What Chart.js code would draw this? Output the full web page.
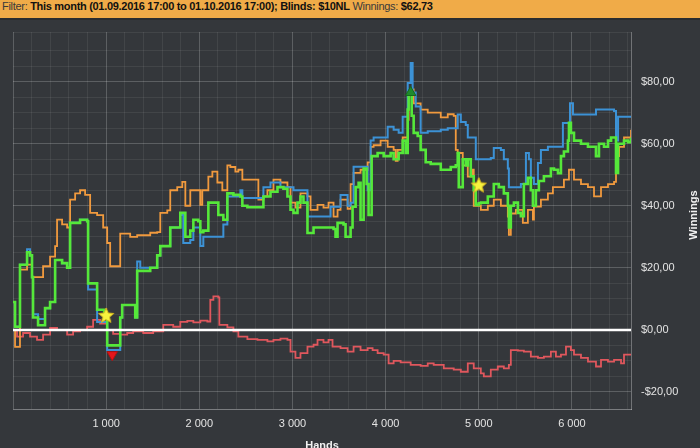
<!DOCTYPE html>
<html>
<head>
<meta charset="utf-8">
<script src="https://cdn.jsdelivr.net/npm/chart.js@4.4.1/dist/chart.umd.min.js"></script>
<style>
  html, body { margin: 0; padding: 0; background: #34373b; width: 700px; height: 448px; overflow: hidden; }
  #filtro { height: 18px; line-height: 18px; background: #f0ab48; color: #3a3a3a; font: 11px "Liberation Sans", Arial, sans-serif; letter-spacing: -0.3px; padding-left: 2px; white-space: nowrap; border-bottom: 2px solid #2a2c2f; }
  #filtro b { color: #111; }
  #marco { position: absolute; left: 0; top: 20px; width: 700px; height: 428px; }
</style>
</head>
<body>
<div id="filtro">Filter: <b>This month (01.09.2016 17:00 to 01.10.2016 17:00); Blinds: $10NL</b> Winnings: <b>$62,73</b></div>
<div id="marco"><canvas id="grafica"></canvas></div>
<script>
// [manos, dolares]
const netWon = [[0,9],[22,1],[54,1],[75,21],[151,25],[183,24],[204,17],[215,4],[269,1.5],[323,1.5],[344,7],[398,9],[452,22.5],[527,21.5],[581,20],[613,34.5],[720,35.5],[796,35],[806,15],[892,15],[903,6.5],[979,5],[1011,-5],[1129,-5],[1151,4],[1172,8],[1301,8],[1312,4],[1333,19],[1473,20],[1548,24],[1581,27],[1688,33],[1763,33],[1796,37.7],[1850,30],[1903,32],[1936,35.5],[1989,35],[2011,31.5],[2043,32],[2097,41],[2151,41],[2204,37],[2258,35.5],[2301,44],[2366,43.5],[2441,43],[2462,40],[2516,39.5],[2656,39.5],[2688,43],[2764,44.5],[2839,46],[2903,45.5],[2946,43],[2979,38.7],[3011,37.7],[3054,41],[3086,43],[3118,41],[3161,31.2],[3226,33],[3333,33],[3441,32.5],[3462,30],[3484,34.5],[3548,34],[3570,30],[3624,33],[3645,39.7],[3678,46],[3710,47.4],[3731,35.5],[3764,52],[3796,47],[3817,37],[3850,56],[3914,57],[3979,56],[4054,57],[4086,55],[4140,57],[4183,61],[4215,57],[4237,71],[4247,76.5],[4269,77],[4280,69],[4301,63.5],[4344,62.5],[4376,58],[4430,54],[4484,53.5],[4592,51.6],[4699,52.5],[4753,53],[4774,57],[4785,46],[4828,55],[4860,53],[4882,55],[4914,49.5],[4946,45],[4968,40.3],[5000,40.8],[5022,41],[5097,43],[5161,47],[5215,46],[5269,44],[5312,40],[5323,33],[5344,40],[5377,41],[5420,37.7],[5452,36.6],[5484,47],[5527,49],[5559,45],[5581,40],[5613,45],[5645,48],[5699,49.5],[5774,52],[5807,51.6],[5850,50.5],[5882,56],[5914,57.5],[5957,61],[5968,66.7],[5989,63.5],[6022,61],[6097,60],[6172,59],[6237,59],[6258,56],[6290,60],[6344,59],[6387,61],[6420,62],[6452,62],[6473,50.6],[6495,60],[6527,60],[6559,61],[6602,60.5],[6634,62]];

const showdownWon = [[0,9],[22,1],[54,1],[75,21],[151,26],[183,24],[204,17],[215,5],[269,3.5],[323,3.5],[344,7],[398,9],[452,22.5],[527,21.5],[581,20],[613,34.5],[720,35.5],[796,35],[806,13],[892,13],[903,2.5],[979,2.5],[1011,-6.5],[1129,-6.5],[1151,4],[1172,8],[1301,8],[1312,4],[1333,22],[1366,20],[1473,20],[1548,24],[1581,27],[1688,33],[1763,33],[1796,37],[1828,28],[1903,29],[1936,33],[1989,33],[2011,27],[2043,30],[2226,30],[2258,34],[2301,43],[2419,43],[2441,45],[2462,42.5],[2656,42.5],[2688,46],[2764,47.5],[2871,46],[2946,46],[3011,45],[3118,45],[3161,36.5],[3376,36.5],[3409,39.7],[3516,43.5],[3592,40],[3624,41],[3656,52.6],[3731,52.6],[3807,45],[3839,61],[3871,62],[3946,62],[4022,65.5],[4086,64.5],[4140,63.5],[4183,68.7],[4237,79.6],[4269,86],[4290,76.5],[4323,72],[4376,63.5],[4452,64],[4592,64.5],[4667,65],[4753,65],[4774,69.4],[4807,67],[4860,66],[4882,62],[4946,62],[4968,55],[5129,55.4],[5161,58.6],[5237,58],[5269,55],[5312,52],[5323,46],[5377,46],[5452,47],[5506,57],[5538,55],[5559,49],[5592,47],[5635,53.8],[5667,58],[5742,59],[5882,59],[5903,66.7],[5957,66.7],[5979,73],[6011,69.4],[6237,69.4],[6258,71],[6452,70.5],[6473,61],[6495,68.7],[6634,68.7]];

const allInAdj = [[0,0],[22,-5.5],[54,-5.5],[75,19.4],[151,21],[204,17],[290,17],[323,20.5],[398,23.6],[452,27],[473,35.5],[527,34],[581,33],[613,42],[667,44],[720,45],[774,43.5],[828,37.7],[903,37],[968,33],[1011,28],[1043,20.5],[1118,20.5],[1151,31],[1258,30],[1333,30.5],[1473,31.3],[1548,31.5],[1581,37.7],[1656,38.5],[1688,45],[1763,46],[1817,47.7],[1850,40],[1903,45],[2011,40.3],[2032,45],[2097,49.4],[2140,51],[2194,47.5],[2247,45],[2301,53],[2333,52.5],[2387,51],[2419,51.6],[2462,48.4],[2624,48.4],[2634,42],[2688,43],[2731,45],[2796,48.4],[2871,47.5],[2946,46],[2979,41],[3032,39.4],[3086,44],[3161,43],[3194,38.7],[3269,40.3],[3333,39.4],[3387,41],[3441,36.5],[3484,38.7],[3516,42],[3592,39],[3624,47],[3656,50.6],[3731,51.6],[3807,54],[3839,59],[3871,59.5],[3946,61],[4022,59],[4086,58],[4108,54.5],[4129,58],[4183,62],[4237,67.7],[4247,76.5],[4269,77.5],[4301,73],[4376,71],[4452,70],[4516,70],[4592,68.5],[4667,69.5],[4731,69],[4753,58],[4774,57],[4828,53],[4882,49.4],[4936,51.6],[4946,40],[5022,38.7],[5097,40],[5161,42],[5237,40],[5312,36.5],[5323,30.6],[5344,37.5],[5398,38.7],[5473,34.5],[5527,38.7],[5581,35.5],[5592,39.7],[5667,42],[5742,44],[5796,46],[5850,46],[5914,48.4],[5968,51.6],[6022,48.4],[6097,47],[6172,46],[6237,43],[6312,46],[6387,47],[6452,47.7],[6473,56],[6506,59],[6559,62],[6634,64.5]];

const nonShowdownWon = [[0,0],[43,-2.2],[108,-1],[183,-2.2],[258,-3.2],[323,-1.5],[398,0.6],[473,0],[581,-1.5],[645,-0.5],[720,0],[796,1],[860,3.2],[935,2],[1011,0],[1075,-1.3],[1151,-1.5],[1226,-1],[1290,-0.5],[1398,-1],[1505,-0.5],[1613,1.6],[1720,1],[1796,2.6],[1871,2.9],[1936,2.4],[2011,3],[2086,2.7],[2118,9.7],[2151,10.8],[2204,10.5],[2215,1.6],[2301,0.8],[2366,-0.5],[2419,-2.2],[2516,-3],[2624,-3.2],[2731,-3.7],[2796,-3.2],[2871,-2.8],[2946,-3.2],[2979,-7],[3032,-9],[3086,-7.5],[3161,-5.4],[3226,-4.8],[3269,-3.2],[3333,-4],[3387,-3.2],[3430,-5.4],[3516,-5.9],[3592,-7],[3656,-5.4],[3731,-6.5],[3807,-5.9],[3860,-6.5],[3914,-7.5],[3979,-8],[4032,-10.8],[4086,-10],[4161,-10.5],[4269,-11.3],[4376,-11.6],[4452,-10.8],[4516,-11.3],[4624,-12.4],[4731,-12.8],[4807,-13.5],[4882,-10.8],[4946,-12.4],[5022,-14],[5054,-15],[5129,-12.8],[5204,-11.8],[5269,-12.4],[5323,-11.3],[5344,-6.5],[5420,-6.7],[5484,-7],[5559,-8.6],[5635,-9],[5699,-8.6],[5774,-7],[5828,-8.6],[5882,-8],[5936,-5.4],[5989,-6.5],[6022,-8],[6097,-9],[6172,-10.2],[6258,-11.8],[6312,-9.7],[6387,-10.2],[6452,-9.7],[6527,-10.8],[6559,-8],[6634,-8]];

const zeroLine = [[0,0],[6634,0]];
const stars = [[1000,4.5],[5000,46.5]];
const lowMark = [[1065,-8]];
const highMark = [[4269,76.5]];

const handsMin = 0, handsMax = 6634;
const wonMin = -25.5, wonMax = 96;
const handsStep = 200;   // rejilla fina, etiqueta cada 1000

const puntos = pares => pares.map(([x, y]) => ({ x, y }));

function estrella(r) {
    const c = document.createElement('canvas');
    c.width = c.height = r * 2 + 2;
    const g = c.getContext('2d');
    g.beginPath();
    for (let i = 0; i < 10; i++) {
        const a = -Math.PI / 2 + i * Math.PI / 5;
        const rr = i % 2 ? r * 0.45 : r;
        g.lineTo(r + 1 + rr * Math.cos(a), r + 1 + rr * Math.sin(a));
    }
    g.closePath();
    g.fillStyle = '#f7f33e';
    g.fill();
    g.strokeStyle = '#d8b81e';
    g.lineWidth = 1;
    g.stroke();
    return c;
}

const miles = v => String(v).replace(/\B(?=(\d{3})+(?!\d))/g, ' ');
const dolares = v => (v < 0 ? '-' : '') + '$' + Math.abs(v).toFixed(2).replace('.', ',');

Chart.defaults.font.family = '"Liberation Sans", Arial, sans-serif';
Chart.defaults.font.size = 11;
Chart.defaults.color = '#e4e4e4';

const linea = (datos, color, ancho, orden) => ({
    data: puntos(datos),
    borderColor: color,
    borderWidth: ancho,
    pointRadius: 0,
    stepped: true,
    order: orden
});

const titulos = {
    id: 'titulos',
    afterDraw(chart) {
        const { ctx, chartArea } = chart;
        ctx.save();
        ctx.fillStyle = '#f0f0f0';
        ctx.font = 'bold 11px "Liberation Sans", Arial, sans-serif';
        ctx.textAlign = 'center';
        ctx.textBaseline = 'middle';
        ctx.fillText('Hands', (chartArea.left + chartArea.right) / 2, 426);
        ctx.translate(694, 195);
        ctx.rotate(-Math.PI / 2);
        ctx.fillText('Winnings', 0, 0);
        ctx.restore();
    }
};

const config = {
    type: 'line',
    data: {
        datasets: [
            { data: puntos(stars), showLine: false, pointStyle: estrella(8), pointRadius: 8, order: 0 },
            { data: puntos(lowMark), showLine: false, pointStyle: 'triangle', rotation: 180, pointRadius: 6, backgroundColor: '#e3161b', borderColor: '#b01010', borderWidth: 1, order: 0 },
            { data: puntos(highMark), showLine: false, pointStyle: 'triangle', pointRadius: 6, backgroundColor: '#1f8a2c', borderColor: '#17661f', borderWidth: 1, order: 0 },
            { data: puntos(zeroLine), borderColor: '#ffffff', borderWidth: 2.5, pointRadius: 0, order: 1 },
            linea(netWon, '#55e83a', 2.6, 2),
            linea(showdownWon, '#3c92d6', 2, 3),
            linea(allInAdj, '#f19a3e', 1.8, 4),
            linea(nonShowdownWon, '#e0575d', 1.8, 5)
        ]
    },
    options: {
        responsive: false,
        animation: false,
        layout: { padding: { left: 13, top: 12, right: 0, bottom: 0 } },
        plugins: { legend: { display: false }, tooltip: { enabled: false } },
        scales: {
            x: {
                type: 'linear',
                min: handsMin,
                max: handsMax,
                // con min/max fijos Chart.js reparte los ticks; los pongo cada 200 manos
                afterBuildTicks: s => {
                    const t = [];
                    for (let v = handsMin; v <= handsMax; v += handsStep) t.push({ value: v });
                    s.ticks = t;
                },
                afterFit: s => { s.height = 39; s.paddingLeft = 0; s.paddingRight = 0; },
                border: { color: 'rgba(255,255,255,0.3)' },
                grid: {
                    drawTicks: false,
                    color: c => (c.tick && c.tick.value % 1000 === 0) ? 'rgba(255,255,255,0.2)' : 'rgba(255,255,255,0.07)'
                },
                ticks: {
                    autoSkip: false,
                    maxRotation: 0,
                    padding: 8,
                    callback: v => (v > 0 && v % 1000 === 0) ? miles(v) : ''
                }
            },
            y: {
                position: 'right',
                min: wonMin,
                max: wonMax,
                afterFit: s => { s.width = 69; s.paddingTop = 0; s.paddingBottom = 0; },
                border: { color: 'rgba(255,255,255,0.3)' },
                grid: {
                    drawTicks: false,
                    color: c => (c.tick && c.tick.value % 20 === 0) ? 'rgba(255,255,255,0.2)' : 'rgba(255,255,255,0.07)'
                },
                ticks: {
                    stepSize: 5,
                    autoSkip: false,
                    padding: 10,
                    callback: v => (v % 20 === 0) ? dolares(v) : ''
                }
            }
        }
    },
    plugins: [titulos]
};

const lienzo = document.getElementById('grafica');
lienzo.width = 700;
lienzo.height = 428;
const grafica = new Chart(lienzo.getContext('2d'), config);
</script>
</body>
</html>
